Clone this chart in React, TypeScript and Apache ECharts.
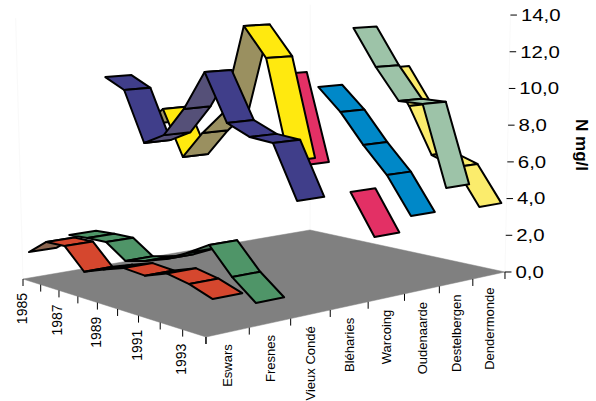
import React, { useEffect, useRef } from "react";
import * as echarts from "echarts";

const years = ["1985", "1986", "1987", "1988", "1989", "1990", "1991", "1992", "1993", "1994"];
const yearLabels = ["1985", "", "1987", "", "1989", "", "1991", "", "1993", ""];
const stations = ["Eswars", "Fresnes", "Vieux Condé", "Bléharies", "Warcoing", "Oudenaarde", "Destelbergen", "Dendermonde"];
const zTicks = [0, 2, 4, 6, 8, 10, 12, 14];
const zLabels = ["0,0", "2,0", "4,0", "6,0", "8,0", "10,0", "12,0", "14,0"];

const eswars = [1.39, 2.2, 2.25, 1.2, 1.6, 1.96, 1.88, 2.28, 2.07, 1.68];
const fresnes = [1.98, 2.07, 2.12, 1.39, 1.67, 2.05, 2.63, 3.3, 2.02, 1.09];
const vieuxConde = [10.48, 9.89, 7.15, 7.75, 9.3, 11.36, 8.89, 8.35, 8.23, 5.61];
const bleharies = [7.6, 8.65, 6.14, 7.64, 8.88, 13.63, 12.04, 6.87, null, null];
const warcoing = [null, null, null, null, null, 10.93, 6.22, null, 5.24, 3.2];
const oudenaarde = [null, null, null, null, null, 10.06, 8.83, 7.23, 5.84, 3.94];
const destelbergen = [null, null, null, null, null, 13.18, 11.11, 9.38, 9.36, 5.1];
const dendermonde = [null, null, null, null, null, 10.79, 8.77, 6.2, 5.73, 3.8];
const allValues = [eswars, fresnes, vieuxConde, bleharies, warcoing, oudenaarde, destelbergen, dendermonde];

const topColors = ["#d5472e", "#4f9568", "#403e8a", "#ffe90f", "#e33065", "#0088c8", "#9dc3a8", "#fbec6c"];
const backColors = ["#8d6650", "#4a7058", "#555078", "#9a9060", "#8f3a55", "#1a6a90", "#7d9a88", "#b8ad58"];

const FONT = "'Liberation Sans', Arial, sans-serif";
const INK = "#000";
const nYears = years.length - 1;
const nStations = stations.length;
const MARGIN = 0.16;

// Homography of the chart floor: u runs along the years, v along the stations.
const G = -0.1436;
const H = 0.1587;
const ZK = 18.63;
function project(u: number, v: number, z: number): [number, number] {
  const w = 1 + G * u + H * v;
  const x = (23 + 153.4 * u + 336.2 * v) / w;
  const y = (279 + 9.6 * u - 12.5 * v) / w;
  return [x + (x - 300) * z * 0.0019, y - (ZK * z) / w];
}

type Seg = { value: [number, number] };

function stationSeries(idx: number) {
  const vals = allValues[idx];
  const segs: Seg[] = [];
  for (let k = 0; k < nYears; k++) {
    if (vals[k] != null && vals[k + 1] != null) segs.push({ value: [idx, k] });
  }
  return {
    type: "custom",
    name: stations[idx],
    coordinateSystem: "cartesian2d",
    silent: true,
    clip: false,
    data: segs,
    renderItem: (_: any, api: any) => {
      const i = api.value(0);
      const k = api.value(1);
      const v0 = (i + MARGIN) / nStations;
      const v1 = (i + 1 - MARGIN) / nStations;
      const u0 = k / nYears;
      const u1 = (k + 1) / nYears;
      const z0 = allValues[i][k] as number;
      const z1 = allValues[i][k + 1] as number;
      const pts = [project(u0, v0, z0), project(u0, v1, z0), project(u1, v1, z1), project(u1, v0, z1)];
      let area = 0;
      pts.forEach((p, n) => {
        const q = pts[(n + 1) % 4];
        area += p[0] * q[1] - q[0] * p[1];
      });
      return {
        type: "polygon",
        shape: { points: pts.map((p) => api.coord(p)) },
        style: {
          fill: area > 0 ? topColors[i] : backColors[i],
          stroke: INK,
          lineWidth: 2,
          lineJoin: "round",
        },
      };
    },
  };
}

function chartOption() {
  const floorSeries = {
    type: "custom",
    coordinateSystem: "cartesian2d",
    silent: true,
    clip: false,
    data: [{ value: [0, 0] }],
    renderItem: (_: any, api: any) => {
      const c = (u: number, v: number, z = 0) => api.coord(project(u, v, z));
      const children: any[] = [];
      const zMax = zTicks[zTicks.length - 1];
      [[0, 0], [0, 1], [1, 1]].forEach(([u, v]) => {
        const a = c(u, v);
        const b = c(u, v, zMax);
        children.push({
          type: "line",
          shape: { x1: a[0], y1: a[1], x2: b[0], y2: b[1] },
          style: { stroke: "#f9f9f9", lineWidth: 1 },
        });
      });
      children.push({
        type: "polygon",
        shape: { points: [c(0, 0), c(1, 0), c(1, 1), c(0, 1)] },
        style: { fill: "#808080", stroke: "#808080", lineWidth: 0.5 },
      });
      const tick = (a: number[], dx: number, dy: number) => ({
        type: "line",
        shape: { x1: a[0], y1: a[1], x2: a[0] + dx, y2: a[1] + dy },
        style: { stroke: "#000", lineWidth: 1 },
      });
      for (let k = 0; k <= nYears; k++) children.push(tick(c(k / nYears, 0), 0, 7));
      for (let i = 0; i <= nStations; i++) children.push(tick(c(1, i / nStations), 0, 7));
      zTicks.forEach((t) => children.push(tick(c(1, 1, t), 6.5, 0)));
      return { type: "group", children };
    },
  };

  const labelSeries = {
    type: "custom",
    coordinateSystem: "cartesian2d",
    silent: true,
    clip: false,
    data: [{ value: [0, 0] }],
    renderItem: (_: any, api: any) => {
      const c = (u: number, v: number, z = 0) => api.coord(project(u, v, z));
      const children: any[] = [];
      const vertical = (text: string, x: number, y: number, size: number) => ({
        type: "text",
        x,
        y,
        rotation: Math.PI / 2,
        style: {
          text,
          fill: "#000",
          fontSize: size,
          fontFamily: FONT,
          align: "right",
          verticalAlign: "middle",
        },
      });
      yearLabels.forEach((t, k) => {
        if (!t) return;
        const p = c(k / nYears, 0);
        children.push(vertical(t, p[0] - 1.5, p[1] + 14, 14));
      });
      stations.forEach((t, i) => {
        const p = c(1, (i + 0.5) / nStations);
        children.push(vertical(t, p[0], p[1] + 12, 13));
      });
      zTicks.forEach((t, i) => {
        const p = c(1, 1, t);
        children.push({
          type: "text",
          x: p[0] + 10.5,
          y: p[1],
          scaleX: 1.2,
          style: {
            text: zLabels[i],
            fill: "#000",
            fontSize: 17,
            fontFamily: FONT,
            align: "left",
            verticalAlign: "middle",
          },
        });
      });
      children.push({
        type: "text",
        x: 581.5,
        y: 145,
        rotation: -Math.PI / 2,
        style: {
          text: "N mg/l",
          fill: "#000",
          fontSize: 17,
          fontWeight: "bold",
          fontFamily: FONT,
          align: "center",
          verticalAlign: "middle",
        },
      });
      return { type: "group", children };
    },
  };

  const ribbons = [];
  for (let i = nStations - 1; i >= 0; i--) ribbons.push(stationSeries(i));

  return {
    animation: false,
    backgroundColor: "#fff",
    grid: { left: 0, top: 0, width: 596, height: 401, containLabel: false },
    xAxis: { type: "value", min: 0, max: 596, show: false },
    yAxis: { type: "value", min: 0, max: 401, inverse: true, show: false },
    series: [floorSeries, ...ribbons, labelSeries],
  };
}

export default function App() {
  const ref = useRef<HTMLDivElement>(null);
  useEffect(() => {
    document.body.style.margin = "0";
    const chart = echarts.init(ref.current!, undefined, { renderer: "svg" });
    chart.setOption(chartOption() as any);
    return () => chart.dispose();
  }, []);
  return <div ref={ref} style={{ width: 596, height: 401 }} />;
}
